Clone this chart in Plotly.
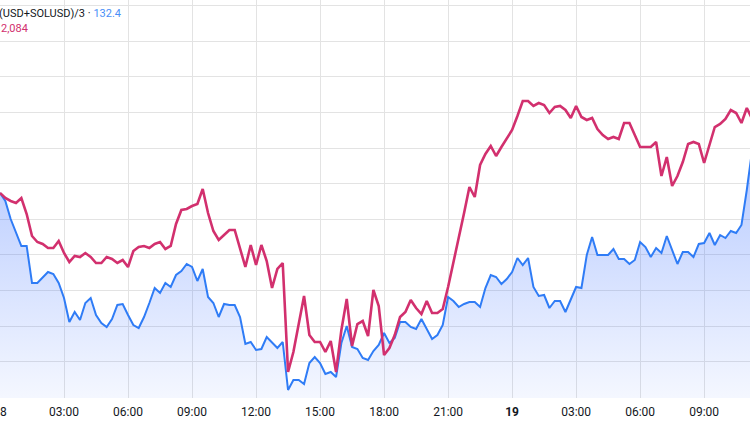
import pandas as pd
import plotly.graph_objects as go

# 15-minute samples starting 18th 00:00
times = pd.date_range("2024-03-18 00:00", periods=142, freq="15min")

index_values = [
    129.9, 129.1, 127.3, 126.0, 124.6, 124.6, 120.9, 120.9, 121.5, 122.0,
    121.8, 120.9, 119.4, 117.0, 118.0, 117.2, 118.9, 119.4, 117.7, 116.9,
    116.5, 117.3, 118.7, 118.8, 117.7, 116.7, 116.4, 117.5, 118.9, 120.4,
    119.9, 120.9, 120.5, 121.7, 122.1, 122.8, 122.5, 121.1, 122.3, 119.5,
    118.9, 117.5, 118.8, 118.7, 118.7, 117.5, 114.8, 115.0, 114.2, 114.3,
    115.5, 115.0, 114.4, 115.0, 110.2, 111.2, 111.2, 110.8, 112.9, 113.5,
    112.9, 111.8, 112.0, 111.5, 114.9, 116.6, 114.5, 114.3, 113.4, 113.2,
    114.1, 114.7, 115.9, 114.9, 115.4, 117.0, 117.0, 116.5, 116.3, 117.3,
    116.3, 115.3, 115.7, 116.7, 119.5, 119.1, 118.5, 118.8, 119.0, 119.0,
    118.5, 120.4, 121.7, 121.5, 120.8, 121.3, 122.0, 123.4, 122.7, 123.4,
    120.5, 119.6, 119.7, 118.4, 119.1, 119.1, 118.0, 119.2, 120.5, 120.4,
    123.7, 125.5, 123.7, 123.7, 123.7, 124.3, 123.3, 123.3, 122.8, 123.2,
    125.0, 124.5, 123.5, 124.4, 123.9, 125.6, 124.2, 122.8, 124.0, 124.0,
    123.5, 124.8, 124.9, 125.9, 124.7, 125.7, 125.4, 126.1, 125.9, 126.7,
    130.2, 134.2,
]

compare_values = [
    2045, 2042.5, 2041, 2040, 2042.5, 2034.5, 2023.5, 2020.5, 2019.5, 2017.5,
    2017.5, 2021, 2015, 2010.5, 2013.5, 2013, 2015, 2013, 2010, 2010,
    2013, 2012, 2010, 2011.5, 2008, 2016, 2018, 2018.5, 2017.5, 2019.5,
    2020.5, 2017, 2018.5, 2029.5, 2036.5, 2037, 2038.5, 2039.5, 2047, 2035,
    2026, 2021.5, 2024, 2026.5, 2026.5, 2017.5, 2008, 2019, 2009, 2019,
    2011, 1997.5, 2007, 2010, 1955.5, 1965.5, 1980, 1993.5, 1974, 1970.5,
    1970.5, 1965.5, 1971, 1955.5, 1976.5, 1992, 1968.5, 1979.5, 1981, 1973.5,
    1996.5, 1988.5, 1964, 1967.5, 1974, 1983, 1985.5, 1991.5, 1987.5, 1984.5,
    1991, 1985, 1985, 1987, 1998, 2010, 2022.5, 2035, 2048, 2043,
    2059, 2064.5, 2068.5, 2063.5, 2068, 2072.5, 2076.5, 2083.5, 2091, 2091,
    2088.5, 2090, 2089, 2085, 2088, 2088.5, 2086.5, 2082.5, 2088.5, 2083,
    2081.5, 2082.5, 2077, 2074, 2072, 2073, 2072, 2080, 2080, 2074,
    2068, 2068, 2068, 2070.5, 2053.5, 2063, 2048.5, 2053.5, 2060.5, 2069.5,
    2070.5, 2069.5, 2060, 2069, 2078, 2079.5, 2082, 2086.5, 2085, 2080,
    2087.5, 2082,
]

tick_times = pd.date_range("2024-03-18 00:00", periods=12, freq="3h")
tick_labels = ["18", "03:00", "06:00", "09:00", "12:00", "15:00", "18:00",
               "21:00", "<b>19</b>", "03:00", "06:00", "09:00"]

legend_name = "(USD+SOLUSD)/3"
legend_last = "132.4"
compare_last = "2,084"

BLUE = "#2f7cf6"
PINK = "#d2306e"
GRID = "#e3e3e3"
TEXT = "#131722"

fig = go.Figure()
fig.add_trace(go.Scatter(
    x=times, y=index_values, mode="lines",
    line=dict(color=BLUE, width=2),
    fill="tozeroy",
    fillgradient=dict(type="vertical",
                      colorscale=[[0, "rgba(41,98,255,0.05)"], [1, "rgba(41,98,255,0.32)"]],
                      start=109.4, stop=132.4),
    hoverinfo="skip", showlegend=False, yaxis="y",
))
fig.add_trace(go.Scatter(
    x=times, y=compare_values, mode="lines",
    line=dict(color=PINK, width=2.6),
    hoverinfo="skip", showlegend=False, yaxis="y2",
))

fig.update_layout(
    width=750, height=430,
    margin=dict(l=0, r=0, t=0, b=32, autoexpand=False),
    paper_bgcolor="white", plot_bgcolor="white",
    font=dict(family="Roboto, sans-serif", size=12, color=TEXT),
    xaxis=dict(
        range=["2024-03-18 00:00", "2024-03-19 11:09"],
        tickmode="array", tickvals=tick_times, ticktext=tick_labels,
        showgrid=True, gridcolor=GRID, gridwidth=1,
        zeroline=False, showline=False, ticks="",
        ticklabeloverflow="allow", automargin=False, ticklabelstandoff=5,
        tickfont=dict(size=12, color=TEXT),
    ),
    yaxis=dict(
        range=[109.4, 149.2], tick0=109.48, dtick=3.56,
        showgrid=True, gridcolor=GRID, gridwidth=1, automargin=False,
        showticklabels=False, zeroline=False, showline=False, ticks="",
    ),
    yaxis2=dict(
        range=[1942.5, 2141.5], overlaying="y", side="right", automargin=False,
        showgrid=False, showticklabels=False, zeroline=False, showline=False,
    ),
    annotations=[
        dict(xref="paper", yref="paper", x=0, y=1, xshift=-3, yshift=-5,
             xanchor="left", yanchor="top", showarrow=False,
             text=f"{legend_name} · <span style='color:#4a8ff7'>{legend_last}</span>",
             font=dict(size=11, color=TEXT)),
        dict(xref="paper", yref="paper", x=0, y=1, xshift=-1, yshift=-20,
             xanchor="left", yanchor="top", showarrow=False,
             text=compare_last, font=dict(size=11, color=PINK)),
    ],
)

fig.write_html(
    "out.html",
    config={"displayModeBar": False},
    post_script="document.body.style.margin='0';document.body.style.overflow='hidden';",
)
